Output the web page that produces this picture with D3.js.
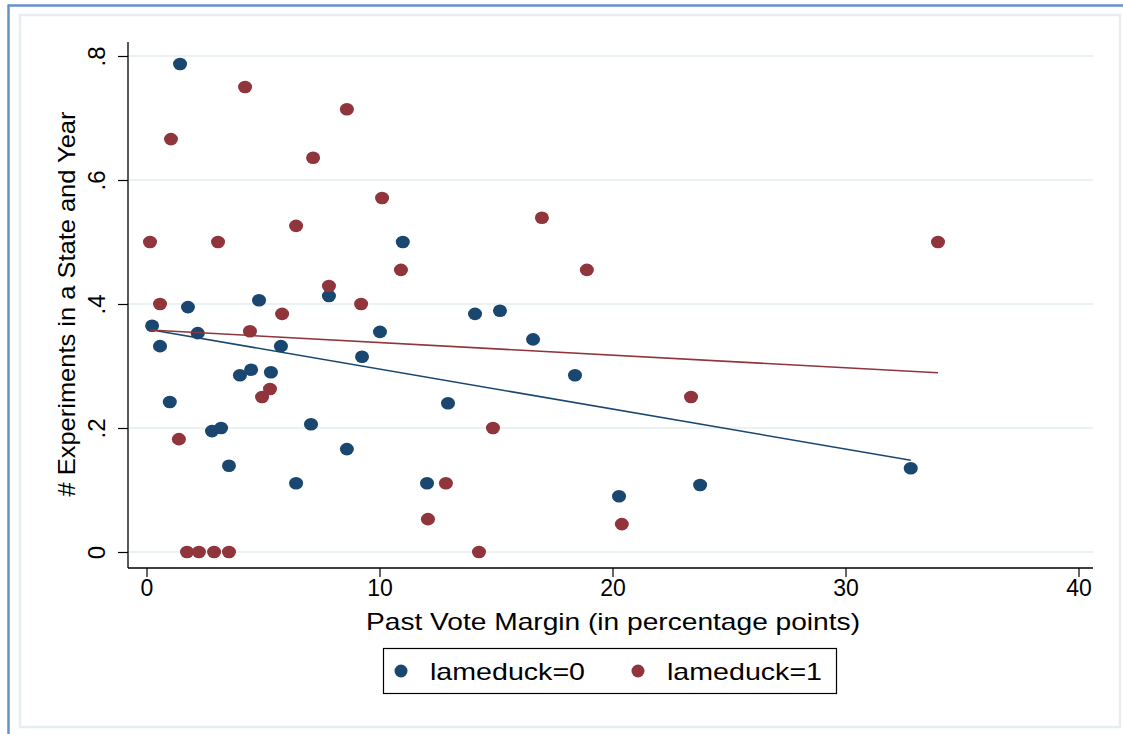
<!DOCTYPE html>
<html>
<head>
<meta charset="utf-8">
<script src="https://cdn.jsdelivr.net/npm/d3@7"></script>
<style>
  html, body { margin: 0; padding: 0; background: #ffffff; }
  svg { display: block; }
  text { font-family: "Liberation Sans", Arial, Helvetica, sans-serif; fill: #000; }
</style>
</head>
<body>
<svg id="chart" width="1123" height="734"></svg>
<script>
// ---- Data ----
const seriesNames = ["lameduck=0", "lameduck=1"];
const seriesColors = ["#1a476f", "#90353b"];

// lameduck = 0
const margin0 = [0.24, 0.58, 1.44, 1.0, 1.78, 2.2, 2.81, 3.2, 3.54, 4.01, 4.49, 4.83, 5.34, 5.77, 6.42,
                 7.06, 7.83, 8.6, 9.25, 10.02, 11.0, 12.04, 12.94, 14.1, 15.17, 16.59, 18.39, 20.28, 23.76, 32.8];
const exper0  = [0.365, 0.332, 0.787, 0.242, 0.395, 0.353, 0.195, 0.2, 0.139, 0.285, 0.294, 0.406, 0.29, 0.332, 0.111,
                 0.206, 0.413, 0.166, 0.315, 0.355, 0.5, 0.111, 0.24, 0.384, 0.389, 0.343, 0.285, 0.09, 0.108, 0.135];

// lameduck = 1
const margin1 = [0.15, 0.58, 1.05, 1.39, 1.74, 2.25, 2.9, 3.54, 3.07, 4.23, 4.44, 4.96, 5.3, 5.82, 6.42,
                 7.15, 7.83, 8.6, 9.21, 10.11, 10.92, 12.08, 12.85, 14.27, 14.87, 16.97, 18.9, 20.4, 23.37, 33.97];
const exper1  = [0.5, 0.4, 0.666, 0.182, 0, 0, 0, 0, 0.5, 0.75, 0.356, 0.25, 0.263, 0.384, 0.526,
                 0.636, 0.429, 0.714, 0.4, 0.571, 0.455, 0.053, 0.111, 0, 0.2, 0.539, 0.455, 0.045, 0.25, 0.5];

// Linear fit lines (endpoints)
const fit0X = [0.24, 32.8];
const fit0Y = [0.358, 0.148];
const fit1X = [0.15, 33.97];
const fit1Y = [0.358, 0.289];

const xTicks = [0, 10, 20, 30, 40];
const yTicks = [0, 0.2, 0.4, 0.6, 0.8];
const yTickLabels = ["0", ".2", ".4", ".6", ".8"];
const xTitle = "Past Vote Margin (in percentage points)";
const yTitle = "# Experiments in a State and Year";

// ---- Drawing ----
const svg = d3.select("#chart");

// outer frame
svg.append("rect").attr("x", 0).attr("y", 0).attr("width", 1123).attr("height", 734).attr("fill", "#ffffff");
svg.append("line").attr("x1", 8).attr("x2", 1123).attr("y1", 5.5).attr("y2", 5.5)
  .attr("stroke", "#6890cc").attr("stroke-width", 2.5);
svg.append("line").attr("x1", 8.5).attr("x2", 8.5).attr("y1", 4.5).attr("y2", 734)
  .attr("stroke", "#6890cc").attr("stroke-width", 2.5);
svg.append("rect").attr("x", 20).attr("y", 15).attr("width", 1100).attr("height", 712)
  .attr("fill", "none").attr("stroke", "#e6eef2").attr("stroke-width", 2.5);

const x = d3.scaleLinear().domain([0, 40]).range([146.5, 1078.5]);
const y = d3.scaleLinear().domain([0, 0.8]).range([552, 56]);

const plotLeft = 128, plotRight = 1093, plotTop = 42, plotBottom = 568;

// gridlines
svg.append("g").selectAll("line").data(yTicks).join("line")
  .attr("x1", plotLeft + 1).attr("x2", plotRight)
  .attr("y1", d => y(d)).attr("y2", d => y(d))
  .attr("stroke", "#eaf2f3").attr("stroke-width", 2.2);

// y axis
const yAxis = svg.append("g").attr("transform", `translate(${plotLeft},0)`)
  .call(d3.axisLeft(y).tickValues(yTicks).tickSize(10).tickFormat((d, i) => yTickLabels[i]));
yAxis.select(".domain").remove();
yAxis.selectAll(".tick line").attr("stroke", "#000").attr("stroke-width", 1.2);
yAxis.selectAll(".tick text")
  .attr("x", 0).attr("dy", null).attr("y", 0)
  .attr("text-anchor", "middle")
  .attr("transform", "translate(-23,0) rotate(-90)")
  .style("font-size", "24px")
  .style("font-family", "'Liberation Sans', Arial, sans-serif");
svg.append("line").attr("x1", plotLeft).attr("x2", plotLeft).attr("y1", plotTop).attr("y2", plotBottom)
  .attr("stroke", "#000").attr("stroke-width", 1.3);

// x axis
const xAxis = svg.append("g").attr("transform", `translate(0,${plotBottom})`)
  .call(d3.axisBottom(x).tickValues(xTicks).tickSize(9).tickFormat(d3.format("d")));
xAxis.select(".domain").remove();
xAxis.selectAll(".tick line").attr("stroke", "#000").attr("stroke-width", 1.2);
xAxis.selectAll(".tick text")
  .attr("y", 12).attr("dy", "0.71em")
  .style("font-size", "23px")
  .style("font-family", "'Liberation Sans', Arial, sans-serif");
svg.append("line").attr("x1", plotLeft).attr("x2", plotRight).attr("y1", plotBottom).attr("y2", plotBottom)
  .attr("stroke", "#000").attr("stroke-width", 1.3);

// axis titles
svg.append("text")
  .attr("x", 366).attr("y", 630)
  .attr("textLength", 494).attr("lengthAdjust", "spacingAndGlyphs")
  .style("font-size", "24px")
  .text(xTitle);
svg.append("text")
  .attr("transform", "translate(75,304) rotate(-90)")
  .attr("text-anchor", "middle")
  .attr("textLength", 385).attr("lengthAdjust", "spacingAndGlyphs")
  .style("font-size", "24px")
  .text(yTitle);

// fit lines
const line = d3.line().x(d => x(d[0])).y(d => y(d[1]));
const fits = [
  { color: seriesColors[0], pts: d3.zip(fit0X, fit0Y) },
  { color: seriesColors[1], pts: d3.zip(fit1X, fit1Y) }
];

// scatter points
const series = [
  { color: seriesColors[0], pts: d3.zip(margin0, exper0) },
  { color: seriesColors[1], pts: d3.zip(margin1, exper1) }
];
series.forEach(s => {
  svg.append("g").selectAll("ellipse").data(s.pts).join("ellipse")
    .attr("cx", d => x(d[0])).attr("cy", d => y(d[1]))
    .attr("rx", 7).attr("ry", 6.3)
    .attr("fill", s.color);
});
fits.forEach(f => {
  svg.append("path").datum(f.pts).attr("d", line)
    .attr("fill", "none").attr("stroke", f.color).attr("stroke-width", 1.6);
});

// legend
const lg = svg.append("g");
lg.append("rect").attr("x", 383.5).attr("y", 648.5).attr("width", 453).attr("height", 45)
  .attr("fill", "#fff").attr("stroke", "#000").attr("stroke-width", 1.2);
const legendX = [401, 638];
seriesNames.forEach((name, i) => {
  lg.append("ellipse").attr("cx", legendX[i]).attr("cy", 671).attr("rx", 6.5).attr("ry", 6.5)
    .attr("fill", seriesColors[i]);
  lg.append("text").attr("x", legendX[i] + 29).attr("y", 680)
    .attr("textLength", 155).attr("lengthAdjust", "spacingAndGlyphs")
    .style("font-size", "24px").text(name);
});
</script>
</body>
</html>
